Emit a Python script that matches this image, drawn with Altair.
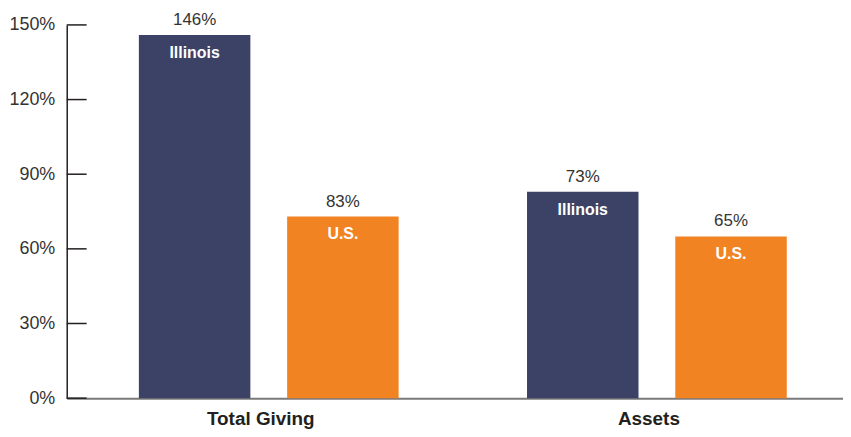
import altair as alt
import pandas as pd

groups = ["Total Giving", "Total Giving", "Assets", "Assets"]
regions = ["Illinois", "U.S.", "Illinois", "U.S."]
bar_values = [146, 73, 83, 65]
value_labels = ["146%", "83%", "73%", "65%"]
group_order = ["Total Giving", "Assets"]
region_order = ["Illinois", "U.S."]
region_colors = ["#3b4266", "#f28322"]
y_ticks = [0, 30, 60, 90, 120, 150]

df = pd.DataFrame({
    "group": groups,
    "region": regions,
    "value": bar_values,
    "label": value_labels,
})
ticks_df = pd.DataFrame({"value": y_ticks})

FONT = "Liberation Sans"

x = alt.X(
    "group:N",
    sort=group_order,
    scale=alt.Scale(paddingInner=0, paddingOuter=0),
    axis=alt.Axis(
        title=None, labelAngle=0, ticks=False, domainColor="#7a7a7a",
        domainWidth=2, labelFont=FONT, labelFontSize=19, labelFontWeight="bold",
        labelColor="#231f20", labelPadding=11,
    ),
)
xo = alt.XOffset(
    "region:N", sort=region_order,
    scale=alt.Scale(paddingInner=0.248, paddingOuter=0.433, align=0.562),
)
y = alt.Y(
    "value:Q",
    scale=alt.Scale(domain=[0, 150]),
    axis=alt.Axis(
        values=y_ticks, labelExpr="datum.value + '%'", ticks=False, grid=False,
        domainColor="#231f20", domainWidth=1.5, title=None, labelFont=FONT,
        labelFontSize=18, labelColor="#333333", labelPadding=12,
    ),
)
color = alt.Color(
    "region:N",
    scale=alt.Scale(domain=region_order, range=region_colors),
    legend=None,
)

base = alt.Chart(df)
bars = base.mark_bar().encode(x=x, xOffset=xo, y=y, color=color)
top_text = base.mark_text(
    baseline="bottom", dy=-6, font=FONT, fontSize=17, color="#333333"
).encode(x=x, xOffset=xo, y=y, text="label:N")
inner_text = base.mark_text(
    baseline="middle", dy=18, font=FONT, fontSize=16, fontWeight="bold", color="white"
).encode(x=x, xOffset=xo, y=y, text="region:N")

tick_rules = alt.Chart(ticks_df).mark_rule(color="#231f20", strokeWidth=1.5).encode(
    y=y,
    x=alt.value(0),
    x2=alt.value(20),
)

chart = alt.layer(bars, top_text, inner_text, tick_rules).properties(
    width=780,
    height=375,
    autosize=alt.AutoSizeParams(type="none"),
    padding={"left": 59, "top": 16, "right": 0, "bottom": 30},
).configure_view(stroke=None)

chart.save("out.html", embed_options={"renderer": "svg", "actions": False})
